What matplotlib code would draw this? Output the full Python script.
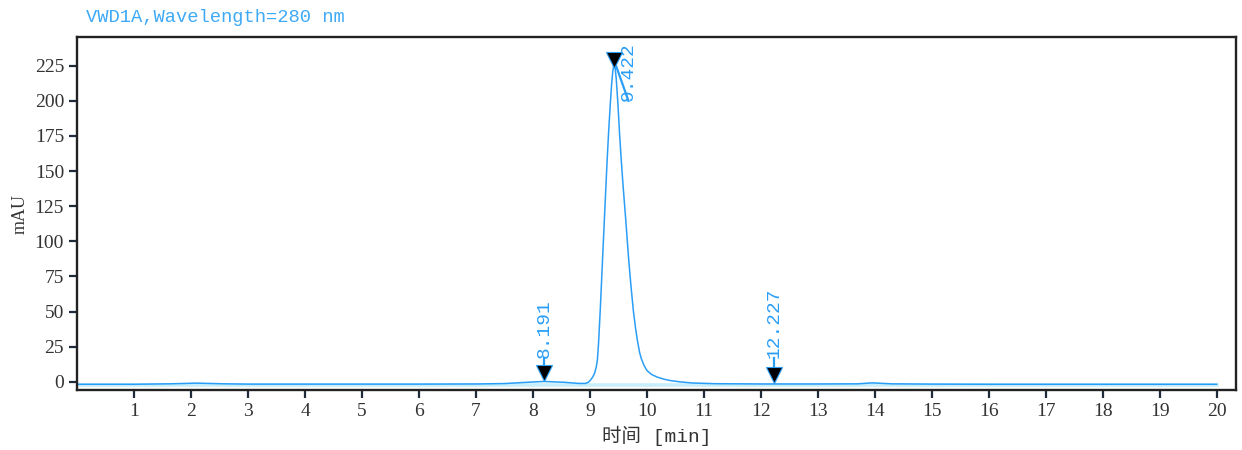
import matplotlib
matplotlib.use("Agg")
import matplotlib.pyplot as plt

# chromatogram trace (time in min, signal in mAU)
times = [0.0, 1.0, 1.6, 2.1, 2.6, 3.0, 4.0, 5.0, 6.0, 7.0, 7.5, 7.85, 8.19,
         8.55, 8.8, 8.92, 8.97, 9.01, 9.05, 9.08, 9.11, 9.13, 9.15, 9.18,
         9.22, 9.26, 9.30, 9.33, 9.36, 9.38, 9.40, 9.42, 9.44, 9.46, 9.49,
         9.52, 9.55, 9.58, 9.63, 9.68, 9.72, 9.76, 9.80, 9.83, 9.87, 9.90,
         9.95, 10.0, 10.08, 10.18, 10.3, 10.4, 10.6, 10.8, 11.2, 12.0,
         12.227, 13.0, 13.7, 13.95, 14.3, 15.0, 16.0, 17.0, 18.0, 19.0, 20.0]
signal = [-1.8, -1.8, -1.5, -1.0, -1.5, -1.7, -1.7, -1.7, -1.7, -1.6, -1.3,
          -0.5, 0.2, -0.4, -1.2, -1.2, -0.4, 1.2, 3.5, 6.0, 10.5, 15.5, 27.3,
          51.0, 86.6, 122.0, 157.0, 180.0, 200.0, 212.0, 221.0, 226.0, 224.0,
          216.0, 198.0, 176.0, 157.0, 140.0, 114.0, 86.6, 68.0, 51.0, 38.0,
          30.0, 21.0, 16.5, 11.5, 8.0, 5.2, 3.3, 1.8, 0.9, -0.2, -0.9, -1.4,
          -1.6, -1.6, -1.6, -1.5, -0.8, -1.5, -1.7, -1.8, -1.8, -1.8, -1.8,
          -1.8]

# baseline under the trace
base_t = [0.0, 20.0]
base_y = [-2.2, -2.2]

# peak marks
peak_rt = [8.191, 12.227, 9.422]
peak_mark_y = [6.2, 4.8, 229.0]
peak_label = ["8.191", "12.227", "9.422"]
label_x = [8.191, 12.227, 9.675]
label_y = [16.9, 16.9, 200.0]

x_ticks = list(range(1, 21))
y_ticks = [0, 25, 50, 75, 100, 125, 150, 175, 200, 225]

blue = "#2A9EF7"

fig = plt.figure(figsize=(12.42, 4.5), dpi=100)
ax = fig.add_axes([0.0622, 0.1333, 0.933, 0.7837])

ax.plot(base_t, base_y, color="#C8EEF9", lw=2.6, zorder=1)
ax.plot(times, signal, color=blue, lw=1.1, zorder=2)

for rt, my, lab, lx, ly in zip(peak_rt, peak_mark_y, peak_label, label_x, label_y):
    ax.plot([rt, lx], [my, ly], color=blue, lw=1.6, zorder=3)
    ax.plot(rt, my, marker="v", markersize=11, color="black",
            markeredgecolor=blue, markeredgewidth=0.8, zorder=4)
    ax.text(lx, ly, lab, rotation=90, ha="center", va="bottom",
            color=blue, fontsize=14, family="Liberation Mono")

ax.set_xlim(0, 20.34)
ax.set_ylim(-5.9, 245.2)
ax.set_xticks(x_ticks)
ax.set_yticks(y_ticks)

for s in ax.spines.values():
    s.set_linewidth(1.7)
    s.set_color("#222222")

ax.tick_params(direction="out", length=6, width=1.6, color="#1f2a3a",
               labelsize=14, labelcolor="#333333")
for lbl in ax.get_xticklabels() + ax.get_yticklabels():
    lbl.set_family("Liberation Serif")

ax.set_xlabel("时间 [min]", fontsize=14, color="#333333",
              family=["Liberation Mono", "Noto Sans CJK SC"], labelpad=4)
ax.set_ylabel("mAU", fontsize=13, color="#333333",
              family="Liberation Serif", labelpad=4)

fig.text(0.069, 0.952, "VWD1A,Wavelength=280 nm", color="#3FA9F5",
         fontsize=13.5, family="Liberation Mono", va="baseline")

fig.savefig("out.png", dpi=100)
